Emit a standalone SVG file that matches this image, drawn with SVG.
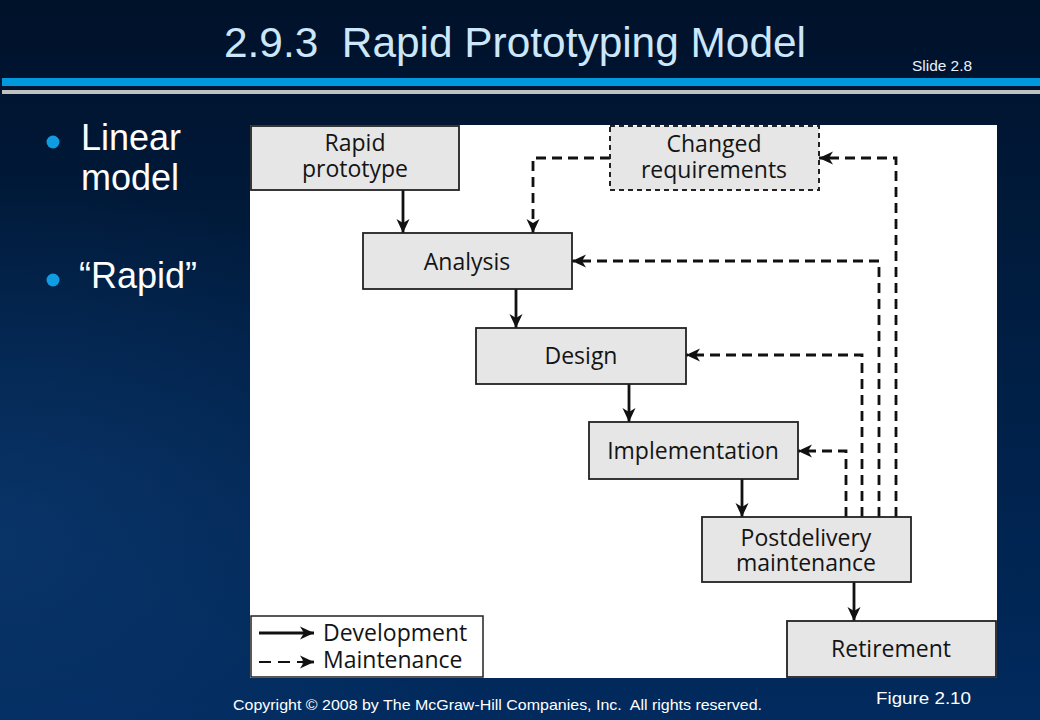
<svg xmlns="http://www.w3.org/2000/svg" width="1040" height="720" viewBox="0 0 1040 720">
  <defs>
    <linearGradient id="bg" x1="0" y1="0" x2="0" y2="1">
      <stop offset="0" stop-color="#00112a"/>
      <stop offset="0.3" stop-color="#001a3a"/>
      <stop offset="1" stop-color="#012a5e"/>
    </linearGradient>
    <radialGradient id="glow" cx="0" cy="0.75" r="0.5">
      <stop offset="0" stop-color="#0d3b72" stop-opacity="0.7"/>
      <stop offset="1" stop-color="#0d3b72" stop-opacity="0"/>
    </radialGradient>
    <marker id="ah" viewBox="-15 -8 16 16" refX="0" refY="0" markerWidth="16" markerHeight="16" markerUnits="userSpaceOnUse" orient="auto">
      <path d="M0,0 L-14,-6.5 L-10,0 L-14,6.5 Z" fill="#111"/>
    </marker>
    <style>
      .box { fill: #e6e6e6; stroke: #222; stroke-width: 1.8; }
      .dbox { fill: #e6e6e6; stroke: #222; stroke-width: 2; stroke-dasharray: 5 4; }
      .lbl { font-family: "Open Sans", "Noto Sans", sans-serif; font-size: 23px; fill: #141414; text-anchor: middle; }
      .leg { font-family: "Open Sans", "Noto Sans", sans-serif; font-size: 23px; fill: #141414; }
      .dev { fill: none; stroke: #111; stroke-width: 2.8; marker-end: url(#ah); }
      .mnt { fill: none; stroke: #111; stroke-width: 2.8; stroke-dasharray: 10 6; marker-end: url(#ah); }
      .slide { font-family: "Liberation Sans", Arial, sans-serif; }
    </style>
  </defs>

  <!-- background -->
  <rect x="0" y="0" width="1040" height="720" fill="url(#bg)"/>
  <rect x="0" y="0" width="1040" height="720" fill="url(#glow)"/>
  <rect x="2" y="78" width="1038" height="8" fill="#0099dd"/>
  <rect x="2" y="90" width="1038" height="4" fill="#c0c0c0"/>

  <!-- title and slide texts -->
  <text class="slide" x="224" y="57" font-size="42" fill="#cce6fa" textLength="582" lengthAdjust="spacingAndGlyphs">2.9.3&#160; Rapid Prototyping Model</text>
  <text class="slide" x="912" y="71" font-size="15" fill="#e8f2fb" textLength="60" lengthAdjust="spacingAndGlyphs">Slide 2.8</text>

  <circle cx="53" cy="142" r="6.5" fill="#0f9ce0"/>
  <text class="slide" x="81" y="150" font-size="36" fill="#ffffff">Linear</text>
  <text class="slide" x="81" y="190" font-size="36" fill="#ffffff">model</text>
  <circle cx="53" cy="280" r="6.5" fill="#0f9ce0"/>
  <text class="slide" x="79" y="288" font-size="36" fill="#ffffff">“Rapid”</text>

  <text class="slide" x="233" y="710" font-size="14.5" fill="#ffffff" textLength="529" lengthAdjust="spacingAndGlyphs">Copyright © 2008 by The McGraw-Hill Companies, Inc.&#160; All rights reserved.</text>
  <text class="slide" x="876" y="704" font-size="17" fill="#ffffff" textLength="95" lengthAdjust="spacingAndGlyphs">Figure 2.10</text>

  <!-- figure panel -->
  <rect x="250" y="125" width="747" height="553" fill="#ffffff"/>

  <!-- connectors -->
  <g id="connectors">
    <line class="dev" x1="403" y1="190" x2="403" y2="233"/>
    <line class="dev" x1="516" y1="289" x2="516" y2="328"/>
    <line class="dev" x1="629" y1="384" x2="629" y2="422"/>
    <line class="dev" x1="742" y1="479" x2="742" y2="517"/>
    <line class="dev" x1="854" y1="582" x2="854" y2="621"/>
    <path class="mnt" d="M610,158 H533 V233"/>
    <path class="mnt" d="M896,517 V158 H819"/>
    <path class="mnt" d="M879,517 V261 H572"/>
    <path class="mnt" d="M862,517 V355 H686"/>
    <path class="mnt" d="M846,517 V451 H798"/>
  </g>

  <g id="rapid-prototype">
    <rect class="box" x="251" y="126" width="208" height="64"/>
    <text class="lbl"><tspan x="355" y="151">Rapid</tspan><tspan x="355" y="177">prototype</tspan></text>
  </g>
  <g id="changed-requirements">
    <rect class="dbox" x="610" y="126" width="209" height="64"/>
    <text class="lbl"><tspan x="714" y="152">Changed</tspan><tspan x="714" y="178">requirements</tspan></text>
  </g>
  <g id="analysis">
    <rect class="box" x="363" y="233" width="209" height="56"/>
    <text class="lbl" x="467" y="270">Analysis</text>
  </g>
  <g id="design">
    <rect class="box" x="476" y="328" width="210" height="56"/>
    <text class="lbl" x="581" y="364">Design</text>
  </g>
  <g id="implementation">
    <rect class="box" x="589" y="422" width="209" height="57"/>
    <text class="lbl" x="693" y="459">Implementation</text>
  </g>
  <g id="postdelivery-maintenance">
    <rect class="box" x="702" y="517" width="209" height="65"/>
    <text class="lbl"><tspan x="806" y="546">Postdelivery</tspan><tspan x="806" y="571">maintenance</tspan></text>
  </g>
  <g id="retirement">
    <rect class="box" x="787" y="621" width="209" height="56"/>
    <text class="lbl" x="891" y="657">Retirement</text>
  </g>

  <g id="legend">
    <rect x="251" y="616" width="232" height="61" fill="#ffffff" stroke="#222" stroke-width="1.5"/>
    <line class="dev" x1="259" y1="633" x2="314" y2="633" stroke-width="2.2"/>
    <line x1="259" y1="662" x2="302" y2="662" stroke="#111" stroke-width="2.2" stroke-dasharray="12 7"/>
    <line class="dev" x1="302" y1="662" x2="314" y2="662" stroke-width="2.2"/>
    <text class="leg" x="323" y="641">Development</text>
    <text class="leg" x="323" y="668">Maintenance</text>
  </g>
</svg>
